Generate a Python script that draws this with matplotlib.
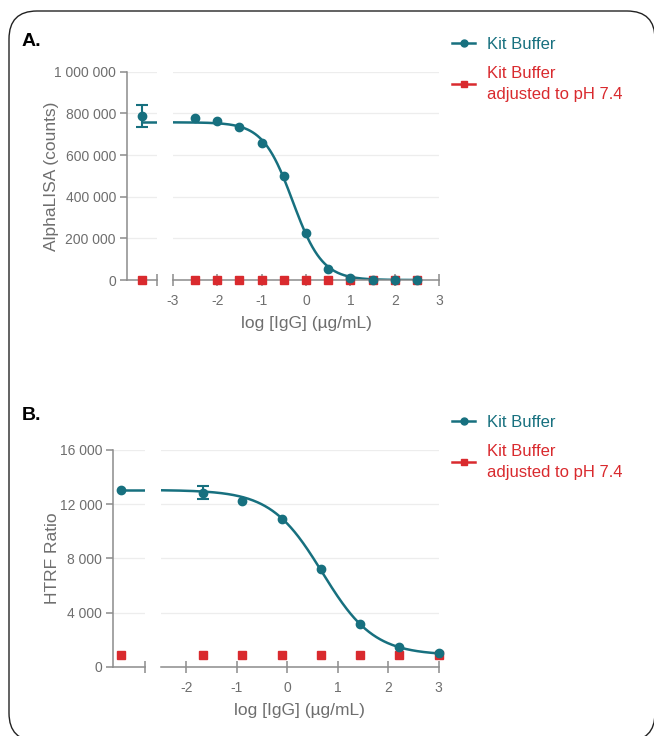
import numpy as np
import matplotlib
matplotlib.use("Agg")
import matplotlib.pyplot as plt
from matplotlib.lines import Line2D
from matplotlib.patches import FancyBboxPatch
from matplotlib.ticker import FuncFormatter

plt.rcParams['font.family'] = ['Liberation Sans', 'DejaVu Sans']
plt.rcParams['axes.unicode_minus'] = False

# --- Panel A: AlphaLISA ---
a_log_igg = [-2.5, -2.0, -1.5, -1.0, -0.5, 0.0, 0.5, 1.0, 1.5, 2.0, 2.5]
a_kit = [779000, 762000, 733000, 656000, 498000, 224000, 53000, 10000, 0, 0, 0]
a_ph74 = [0, 0, 0, 0, 0, 0, 0, 0, 0, 0, 0]
a_ctrl_kit = 787000
a_ctrl_err = 54000
a_ctrl_ph74 = 0
# 4PL fit: top, bottom, logIC50, hill
a_fit = (757000, 0, -0.3, 1.3)

# --- Panel B: HTRF ---
b_log_igg = [-1.667, -0.889, -0.111, 0.667, 1.444, 2.222, 3.0]
b_kit = [12850, 12210, 10930, 7240, 3130, 1480, 980]
b_kit_err = [470, 0, 0, 0, 0, 0, 0]
b_ph74 = [840, 860, 840, 840, 840, 830, 830]
b_ctrl_kit = 13050
b_ctrl_ph74 = 840
b_fit = (13050, 850, 0.696, 0.851)

TEAL = '#17707f'
RED = '#d92a2e'
GREY_AX = '#8c8c8c'
GREY_TXT = '#6e6e6e'
W, H = 654, 736


def four_pl(x, top, bottom, logic50, hill):
    return bottom + (top - bottom) / (1 + 10 ** (hill * (x - logic50)))


def px_axes(fig, x0, x1, y0, y1):
    # pixel box -> figure fraction
    return fig.add_axes([x0 / W, 1 - y1 / H, (x1 - x0) / W, (y1 - y0) / H])


def space_fmt(v, pos):
    return f"{int(round(v)):,}".replace(",", " ")


def style_pair(axl, axr, ymax, yticks, xticks, xlim, ylabel, ylabel_x):
    for ax in (axl, axr):
        ax.set_ylim(0, ymax)
        ax.set_yticks(yticks)
        ax.yaxis.grid(True, color='#ededed', lw=0.9)
        ax.set_axisbelow(True)
        for s in ('top', 'right'):
            ax.spines[s].set_visible(False)
        for s in ('left', 'bottom'):
            ax.spines[s].set_color(GREY_AX)
            ax.spines[s].set_linewidth(1.1)
        ax.tick_params(axis='x', direction='inout', length=8, width=1.1,
                       color=GREY_AX, labelcolor=GREY_TXT, labelsize=10, pad=6)
    axl.set_xlim(0, 1)
    axl.set_xticks([1])
    axl.set_xticklabels([''])
    axl.yaxis.set_major_formatter(FuncFormatter(space_fmt))
    axl.tick_params(axis='y', direction='out', length=5, width=1.1,
                    color=GREY_AX, labelcolor=GREY_TXT, labelsize=10, pad=3)
    axl.set_ylabel(ylabel, fontsize=12.5, color=GREY_TXT)
    axl.yaxis.set_label_coords(ylabel_x, 0.5)
    axr.spines['left'].set_visible(False)
    axr.tick_params(axis='y', left=False, labelleft=False)
    axr.set_xlim(*xlim)
    axr.set_xticks(xticks)
    axr.set_xlabel('log [IgG] (\u00b5g/mL)', fontsize=12.5, color=GREY_TXT, labelpad=6)


fig = plt.figure(figsize=(W / 100, H / 100), dpi=100)

# ---------- Panel A ----------
axAl = px_axes(fig, 127, 156.7, 71.7, 280)
axAr = px_axes(fig, 172.7, 439.3, 71.7, 280)
style_pair(axAl, axAr, 1000000, [0, 200000, 400000, 600000, 800000, 1000000],
           [-3, -2, -1, 0, 1, 2, 3], (-3, 3), 'AlphaLISA (counts)', (59 - 127) / 29.7)

xa = np.linspace(-3, 2.5, 300)
axAr.plot(xa, four_pl(xa, *a_fit), color=TEAL, lw=1.8, zorder=2)
axAr.plot(a_log_igg, a_ph74, 's', color=RED, ms=6, zorder=3, clip_on=False)
axAr.plot(a_log_igg, a_kit, 'o', color=TEAL, ms=6, zorder=4, clip_on=False)

axAl.plot([0.5, 1], [a_fit[0], a_fit[0]], color=TEAL, lw=1.8, zorder=2)
axAl.plot([0.5], [a_ctrl_ph74], 's', color=RED, ms=6, zorder=3, clip_on=False)
axAl.errorbar([0.5], [a_ctrl_kit], yerr=[a_ctrl_err], fmt='o', color=TEAL, ms=6,
              capsize=4, elinewidth=1.5, capthick=1.5, zorder=4, clip_on=False)

# ---------- Panel B ----------
axBl = px_axes(fig, 113.3, 144.7, 450, 666.7)
axBr = px_axes(fig, 161, 438.7, 450, 666.7)
style_pair(axBl, axBr, 16000, [0, 4000, 8000, 12000, 16000],
           [-2, -1, 0, 1, 2, 3], (-2.5, 3), 'HTRF Ratio', (60 - 113.3) / 31.4)

xb = np.linspace(-2.5, 3, 300)
axBr.plot(xb, four_pl(xb, *b_fit), color=TEAL, lw=1.8, zorder=2)
axBr.plot(b_log_igg, b_ph74, 's', color=RED, ms=6, zorder=3, clip_on=False)
axBr.plot(b_log_igg, b_kit, 'o', color=TEAL, ms=6, zorder=4, clip_on=False)
has_err = [i for i, e in enumerate(b_kit_err) if e > 0]
axBr.errorbar([b_log_igg[i] for i in has_err], [b_kit[i] for i in has_err],
              yerr=[b_kit_err[i] for i in has_err], fmt='none', ecolor=TEAL,
              capsize=4, elinewidth=1.5, capthick=1.5, zorder=4)

axBl.plot([0.25, 1], [b_ctrl_kit, b_ctrl_kit], color=TEAL, lw=1.8, zorder=2)
axBl.plot([0.25], [b_ctrl_ph74], 's', color=RED, ms=6, zorder=3, clip_on=False)
axBl.plot([0.25], [b_ctrl_kit], 'o', color=TEAL, ms=6, zorder=4, clip_on=False)

# ---------- legends ----------
handles = [Line2D([], [], color=TEAL, marker='o', ms=5, lw=1.8),
           Line2D([], [], color=RED, marker='s', ms=5, lw=1.8)]
labels = ['Kit Buffer', 'Kit Buffer\nadjusted to pH 7.4']
for top_px in (37, 415):
    leg = fig.legend(handles, labels, loc='upper left',
                     bbox_to_anchor=(452 / W, 1 - top_px / H), frameon=False,
                     fontsize=12, labelcolor=[TEAL, RED], handlelength=1.4,
                     handletextpad=0.7, labelspacing=0.82, borderpad=0, borderaxespad=0)
    leg.get_texts()[1].set_linespacing(1.55)

# panel letters
fig.text(22 / W, 1 - 42 / H, 'A.', fontsize=14, fontweight='bold', va='center')
fig.text(22 / W, 1 - 416 / H, 'B.', fontsize=14, fontweight='bold', va='center')

# rounded frame
fig.add_artist(FancyBboxPatch((9 / W, 1 - 741 / H), (655 - 9) / W, (741 - 11) / H,
                              boxstyle='round,pad=0,rounding_size=%f' % (28 / W),
                              mutation_aspect=W / H, transform=fig.transFigure,
                              fill=False, ec='#222222', lw=1.0))

plt.savefig('out.png', dpi=100)
